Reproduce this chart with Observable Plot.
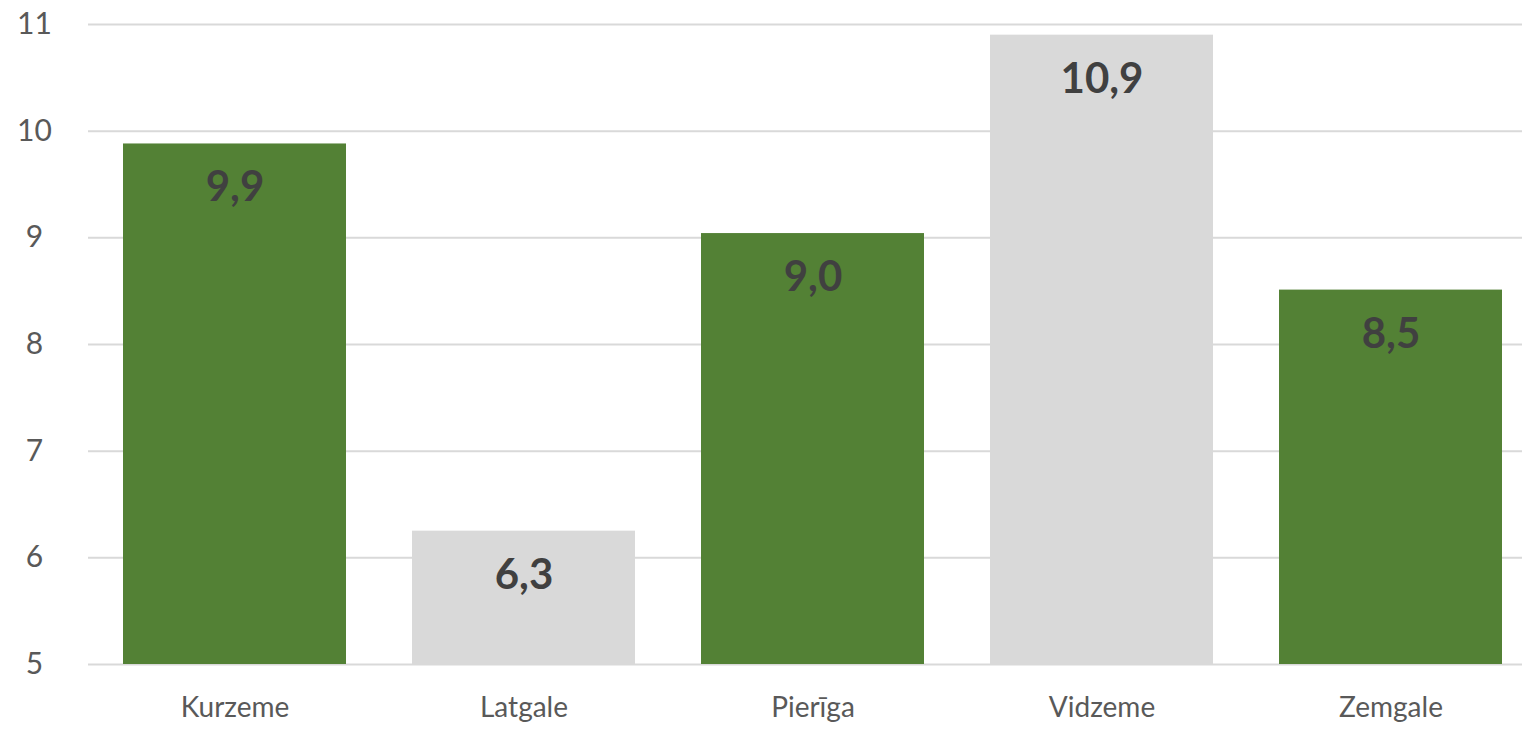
<!DOCTYPE html>
<html>
<head>
<meta charset="utf-8">
<script src="https://cdn.jsdelivr.net/npm/d3@7"></script>
<script src="https://cdn.jsdelivr.net/npm/@observablehq/plot@0.6"></script>
<style>
  html, body { margin: 0; padding: 0; background: #ffffff; }
</style>
</head>
<body>
<div id="chart"></div>
<script>
const regions = ["Kurzeme", "Latgale", "Pierīga", "Vidzeme", "Zemgale"];
const values = [9.88, 6.25, 9.04, 10.9, 8.51];
const labels = ["9,9", "6,3", "9,0", "10,9", "8,5"];
const colors = ["#538135", "#d9d9d9", "#538135", "#d9d9d9", "#538135"];
const yTicks = [5, 6, 7, 8, 9, 10, 11];

const data = regions.map((r, i) => ({region: r, value: values[i], label: labels[i], color: colors[i]}));

const chart = Plot.plot({
  width: 1522,
  height: 730,
  marginTop: 24,
  marginBottom: 66,
  marginLeft: 88,
  marginRight: 0,
  style: {fontFamily: "Lato, 'Open Sans', sans-serif", background: "#ffffff"},
  x: {domain: regions, range: [88, 1536], paddingInner: 0.23, paddingOuter: 0.115, label: null},
  y: {domain: [5, 11], label: null},
  marks: [
    Plot.gridY(yTicks, {stroke: "#d9d9d9", strokeOpacity: 1, strokeWidth: 2}),
    Plot.barY(data, {x: "region", y1: 5, y2: "value", fill: "color"}),
    Plot.text(data, {x: "region", y: "value", text: "label", dy: 44, fontSize: 42, fontWeight: "bold", fill: "#404040"}),
    Plot.axisY(yTicks, {tickSize: 0, tickPadding: 54, textAnchor: "middle", fontSize: 30, fill: "#595959", tickFormat: d => String(d), label: null}),
    Plot.axisX({tickSize: 0, tickPadding: 33, fontSize: 28, fill: "#595959", label: null})
  ]
});
document.getElementById("chart").appendChild(chart);
</script>
</body>
</html>
